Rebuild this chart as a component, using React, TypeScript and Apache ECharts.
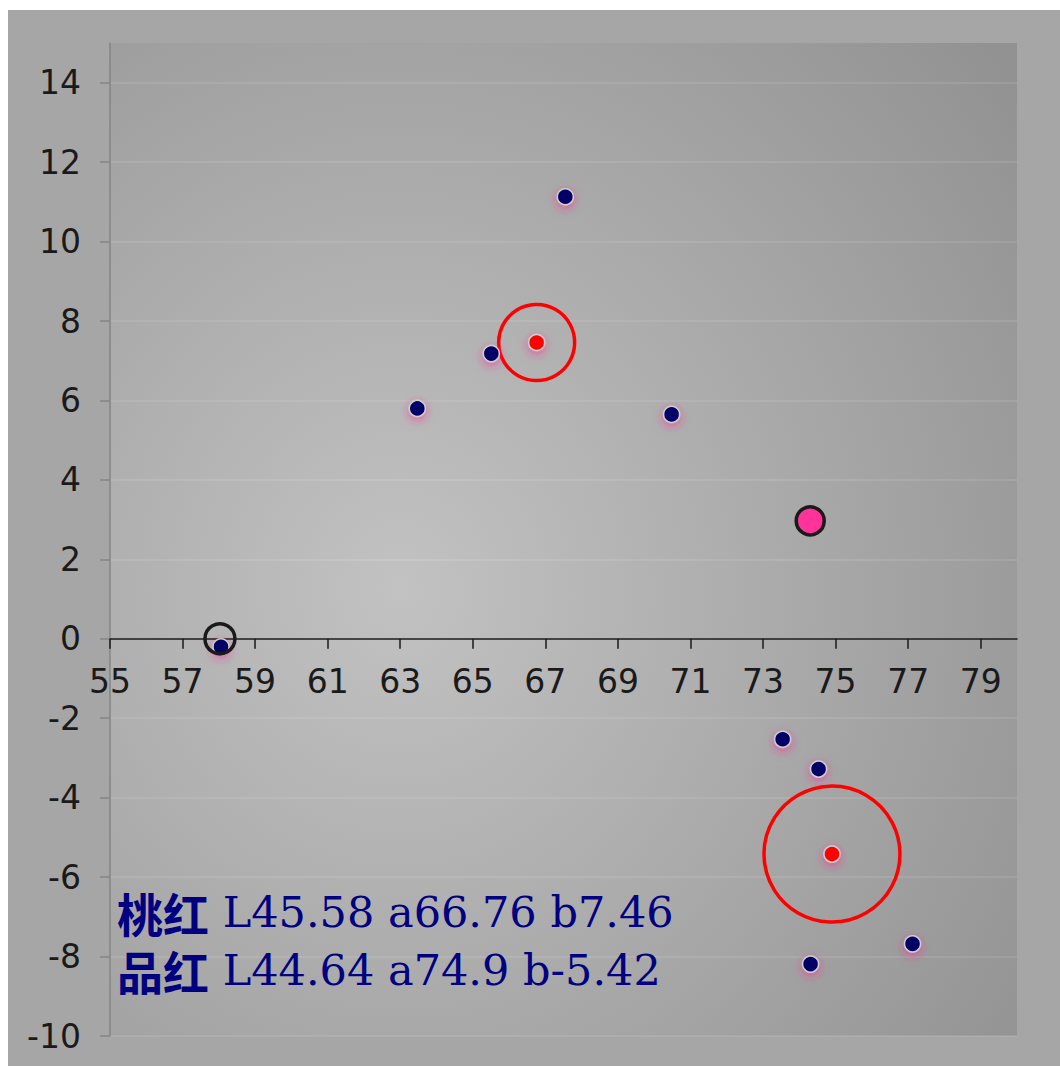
import React, { useEffect, useRef } from "react";
import * as echarts from "echarts";

const xTicks = [55, 57, 59, 61, 63, 65, 67, 69, 71, 73, 75, 77, 79];
const yTicks = [-10, -8, -6, -4, -2, 0, 2, 4, 6, 8, 10, 12, 14];

const samplePoints: [number, number][] = [
  [58.06, -0.2],
  [63.47, 5.8],
  [65.51, 7.18],
  [67.55, 11.13],
  [70.48, 5.65],
  [73.54, -2.53],
  [74.53, -3.28],
  [74.31, -8.19],
  [77.12, -7.68],
];
const peachRed: [number, number] = [66.76, 7.46];
const magenta: [number, number] = [74.9, -5.42];
const pinkTarget: [number, number] = [74.3, 2.97];
const originMark: [number, number] = [58.03, 0];

const label1Name = "桃红";
const label1Value = "L45.58 a66.76 b7.46";
const label2Name = "品红";
const label2Value = "L44.64 a74.9 b-5.42";

const GRID_TOP = 33;
const GRID_BOTTOM = 30;
const CHART_H = 1056;
const Y_MIN = -10;
const Y_MAX = 15;

export default function App() {
  const ref = useRef<HTMLDivElement>(null);
  useEffect(() => {
    if (!ref.current) return;
    const chart = echarts.init(ref.current, null, { renderer: "svg" });
    const glow = {
      shadowColor: "rgba(255,40,150,0.6)",
      shadowBlur: 10,
      shadowOffsetY: 3,
    };
    const gridH = CHART_H - GRID_TOP - GRID_BOTTOM;
    const zeroOffset = (gridH * (0 - Y_MIN)) / (Y_MAX - Y_MIN);
    const richStyles = {
      a: { fontFamily: "Noto Sans CJK SC", fontWeight: "bold", fontSize: 46, lineHeight: 58, fill: "#000080" },
      b: { fontFamily: "DejaVu Serif", fontSize: 43, lineHeight: 58, fill: "#000080" },
    };
    chart.setOption({
      animation: false,
      backgroundColor: "#a6a6a6",
      grid: {
        left: 102,
        top: GRID_TOP,
        right: 43,
        bottom: GRID_BOTTOM,
        outerBoundsMode: "none",
        containLabel: false,
        show: true,
        borderWidth: 0,
        backgroundColor: new echarts.graphic.RadialGradient(0.32, 0.55, 0.85, [
          { offset: 0, color: "#c2c2c2" },
          { offset: 1, color: "#929292" },
        ]),
      },
      xAxis: {
        type: "value",
        position: "bottom",
        offset: -zeroOffset,
        min: 55,
        max: 80,
        interval: 2,
        axisLine: { onZero: false, lineStyle: { color: "#1a1a1a", width: 1.5 } },
        axisTick: { show: true, length: 10, customValues: xTicks, lineStyle: { color: "#1a1a1a", width: 1.5 } },
        axisLabel: {
          customValues: xTicks,
          margin: 26,
          fontSize: 33,
          fontFamily: "DejaVu Sans",
          color: "#1a1a1a",
        },
        splitLine: { show: false },
      },
      yAxis: {
        type: "value",
        min: Y_MIN,
        max: Y_MAX,
        interval: 2,
        axisLine: { show: true, onZero: false, lineStyle: { color: "#858585", width: 1.5 } },
        axisTick: { show: true, length: 10, customValues: yTicks, lineStyle: { color: "#858585", width: 1.5 } },
        axisLabel: {
          customValues: yTicks,
          margin: 29,
          fontSize: 33,
          fontFamily: "DejaVu Sans",
          color: "#1a1a1a",
        },
        splitLine: { show: true, lineStyle: { color: "rgba(255,255,255,0.13)", width: 1.5 } },
      },
      series: [
        {
          type: "scatter",
          data: samplePoints,
          symbolSize: 16,
          itemStyle: { opacity: 1, color: "#000066", borderColor: "#cfcfcf", borderWidth: 1.5, ...glow },
          z: 3,
        },
        {
          type: "scatter",
          data: [peachRed, magenta],
          symbolSize: 16,
          itemStyle: { opacity: 1, color: "#ff0000", borderColor: "#cfcfcf", borderWidth: 1.5, ...glow },
          z: 3,
        },
        {
          type: "scatter",
          data: [peachRed],
          symbolSize: 76,
          itemStyle: { opacity: 1, color: "transparent", borderColor: "#ff0000", borderWidth: 3.5 },
          z: 2,
        },
        {
          type: "scatter",
          data: [magenta],
          symbolSize: 136,
          itemStyle: { opacity: 1, color: "transparent", borderColor: "#ff0000", borderWidth: 3.5 },
          z: 2,
        },
        {
          type: "scatter",
          data: [pinkTarget],
          symbolSize: 28,
          itemStyle: { opacity: 1, color: "#ff3399", borderColor: "#1a1a1a", borderWidth: 3.5 },
          z: 4,
        },
        {
          type: "scatter",
          data: [originMark],
          symbolSize: 30,
          itemStyle: { opacity: 1, color: "transparent", borderColor: "#1a1a1a", borderWidth: 3.5 },
          z: 4,
        },
      ],
      graphic: [
        {
          type: "text",
          left: 109,
          top: 879,
          z: 10,
          style: {
            text: `{a|${label1Name}}{b| ${label1Value}}\n{a|${label2Name}}{b| ${label2Value}}`,
            rich: richStyles,
          },
        },
      ],
    });
    return () => chart.dispose();
  }, []);
  return (
    <div
      ref={ref}
      style={{ position: "absolute", left: 8, top: 10, width: 1052, height: 1056 }}
    />
  );
}
